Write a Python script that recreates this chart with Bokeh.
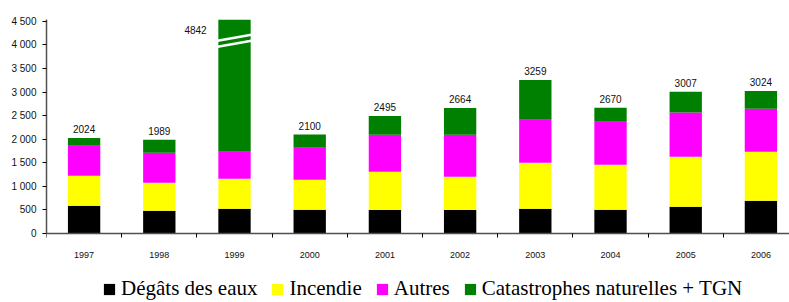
from bokeh.plotting import figure
from bokeh.models import ColumnDataSource, Range1d, FixedTicker, Legend
from bokeh.core.properties import value
from bokeh.embed import file_html
from bokeh.resources import INLINE

years = ["1997", "1998", "1999", "2000", "2001", "2002", "2003", "2004", "2005", "2006"]
degats = [588, 482, 524, 503, 500, 500, 524, 503, 567, 694]
incendie = [637, 594, 637, 637, 810, 704, 977, 955, 1061, 1040]
autres = [637, 637, 573, 680, 785, 891, 913, 913, 941, 913]
catnat = [162, 276, 3108, 280, 400, 569, 845, 299, 438, 377]
totals = [2024, 1989, 4842, 2100, 2495, 2664, 3259, 2670, 3007, 3024]
y_ticks = [0, 500, 1000, 1500, 2000, 2500, 3000, 3500, 4000, 4500]

series = ["degats", "incendie", "autres", "catnat"]
labels = ["Dégâts des eaux", "Incendie", "Autres", "Catastrophes naturelles + TGN"]
colors = ["#000000", "#FFFF00", "#FF00FF", "#008000"]

Y_MAX = 4540
Y_MIN = -1464   # room below the zero line for year labels and legend
BAR_W = 0.43
xs = list(range(len(years)))

src = ColumnDataSource(dict(x=xs, degats=degats, incendie=incendie, autres=autres, catnat=catnat))

p = figure(width=789, height=302, output_backend="svg", toolbar_location=None,
           x_range=Range1d(-0.5, 9.38), y_range=Range1d(Y_MIN, Y_MAX),
           min_border_left=46, min_border_right=0, min_border_top=19, min_border_bottom=0)
p.outline_line_color = None
p.xgrid.grid_line_color = None
p.ygrid.grid_line_color = None
p.background_fill_color = "white"

rs = p.vbar_stack(series, x="x", width=BAR_W, source=src, color=colors, line_color=None)

# value labels
in_x = [x for x, t in zip(xs, totals) if t <= Y_MAX]
in_t = [t for t in totals if t <= Y_MAX]
p.text(x=in_x, y=in_t, text=[str(t) for t in in_t], text_align="center", text_baseline="bottom",
       y_offset=-5, text_font=value("Liberation Sans"), text_font_size="10px", text_color="#111111")
out_x = [x for x, t in zip(xs, totals) if t > Y_MAX]
out_t = [t for t in totals if t > Y_MAX]
p.text(x=out_x, y=[Y_MAX] * len(out_x), text=[str(t) for t in out_t], text_align="center",
       text_baseline="middle", x_offset=-39, y_offset=10,
       text_font=value("Liberation Sans"), text_font_size="10px", text_color="#111111")

# break marks on truncated bars
for bx in out_x:
    for lvl in (4091, 3964):
        p.segment(x0=[bx - BAR_W / 2 - 0.01], y0=[lvl], x1=[bx + BAR_W / 2 + 0.01], y1=[lvl + 127],
                  line_color="white", line_width=2.5)

# axes
xa = p.xaxis[0]
xa.fixed_location = 0
xa.ticker = FixedTicker(ticks=xs, minor_ticks=[i - 0.5 for i in range(len(years) + 1)])
xa.major_label_overrides = {i: y for i, y in enumerate(years)}
xa.major_tick_in = 0
xa.major_tick_out = 0
xa.major_tick_line_color = None
xa.minor_tick_in = 0
xa.minor_tick_out = 4
xa.minor_tick_line_color = "#000000"
xa.axis_line_color = "#505050"
xa.axis_line_width = 1.5
xa.major_label_standoff = 15
xa.major_label_text_font = "Liberation Sans"
xa.major_label_text_font_size = "9px"
xa.major_label_text_color = "#111111"

ya = p.yaxis[0]
ya.bounds = (0, Y_MAX)
ya.ticker = FixedTicker(ticks=y_ticks, minor_ticks=[])
ya.major_label_overrides = {v: f"{v:,}".replace(",", " ") for v in y_ticks}
ya.major_tick_in = 0
ya.major_tick_out = 4
ya.minor_tick_line_color = None
ya.major_tick_line_color = "#000000"
ya.axis_line_color = "#505050"
ya.axis_line_width = 1.5
ya.major_label_standoff = 6
ya.major_label_text_font = "Liberation Sans"
ya.major_label_text_font_size = "10px"
ya.major_label_text_color = "#111111"

legend = Legend(items=[(lab, [r]) for lab, r in zip(labels, rs)], orientation="horizontal",
                location=(56, 1), padding=0, margin=0, spacing=13, label_standoff=5,
                glyph_width=14, glyph_height=14, label_height=14,
                label_text_font="Liberation Serif", label_text_font_size="21px",
                label_text_color="#000000", border_line_color=None, background_fill_alpha=0)
p.add_layout(legend, "center")

open("out.html", "w").write(file_html(p, INLINE))
